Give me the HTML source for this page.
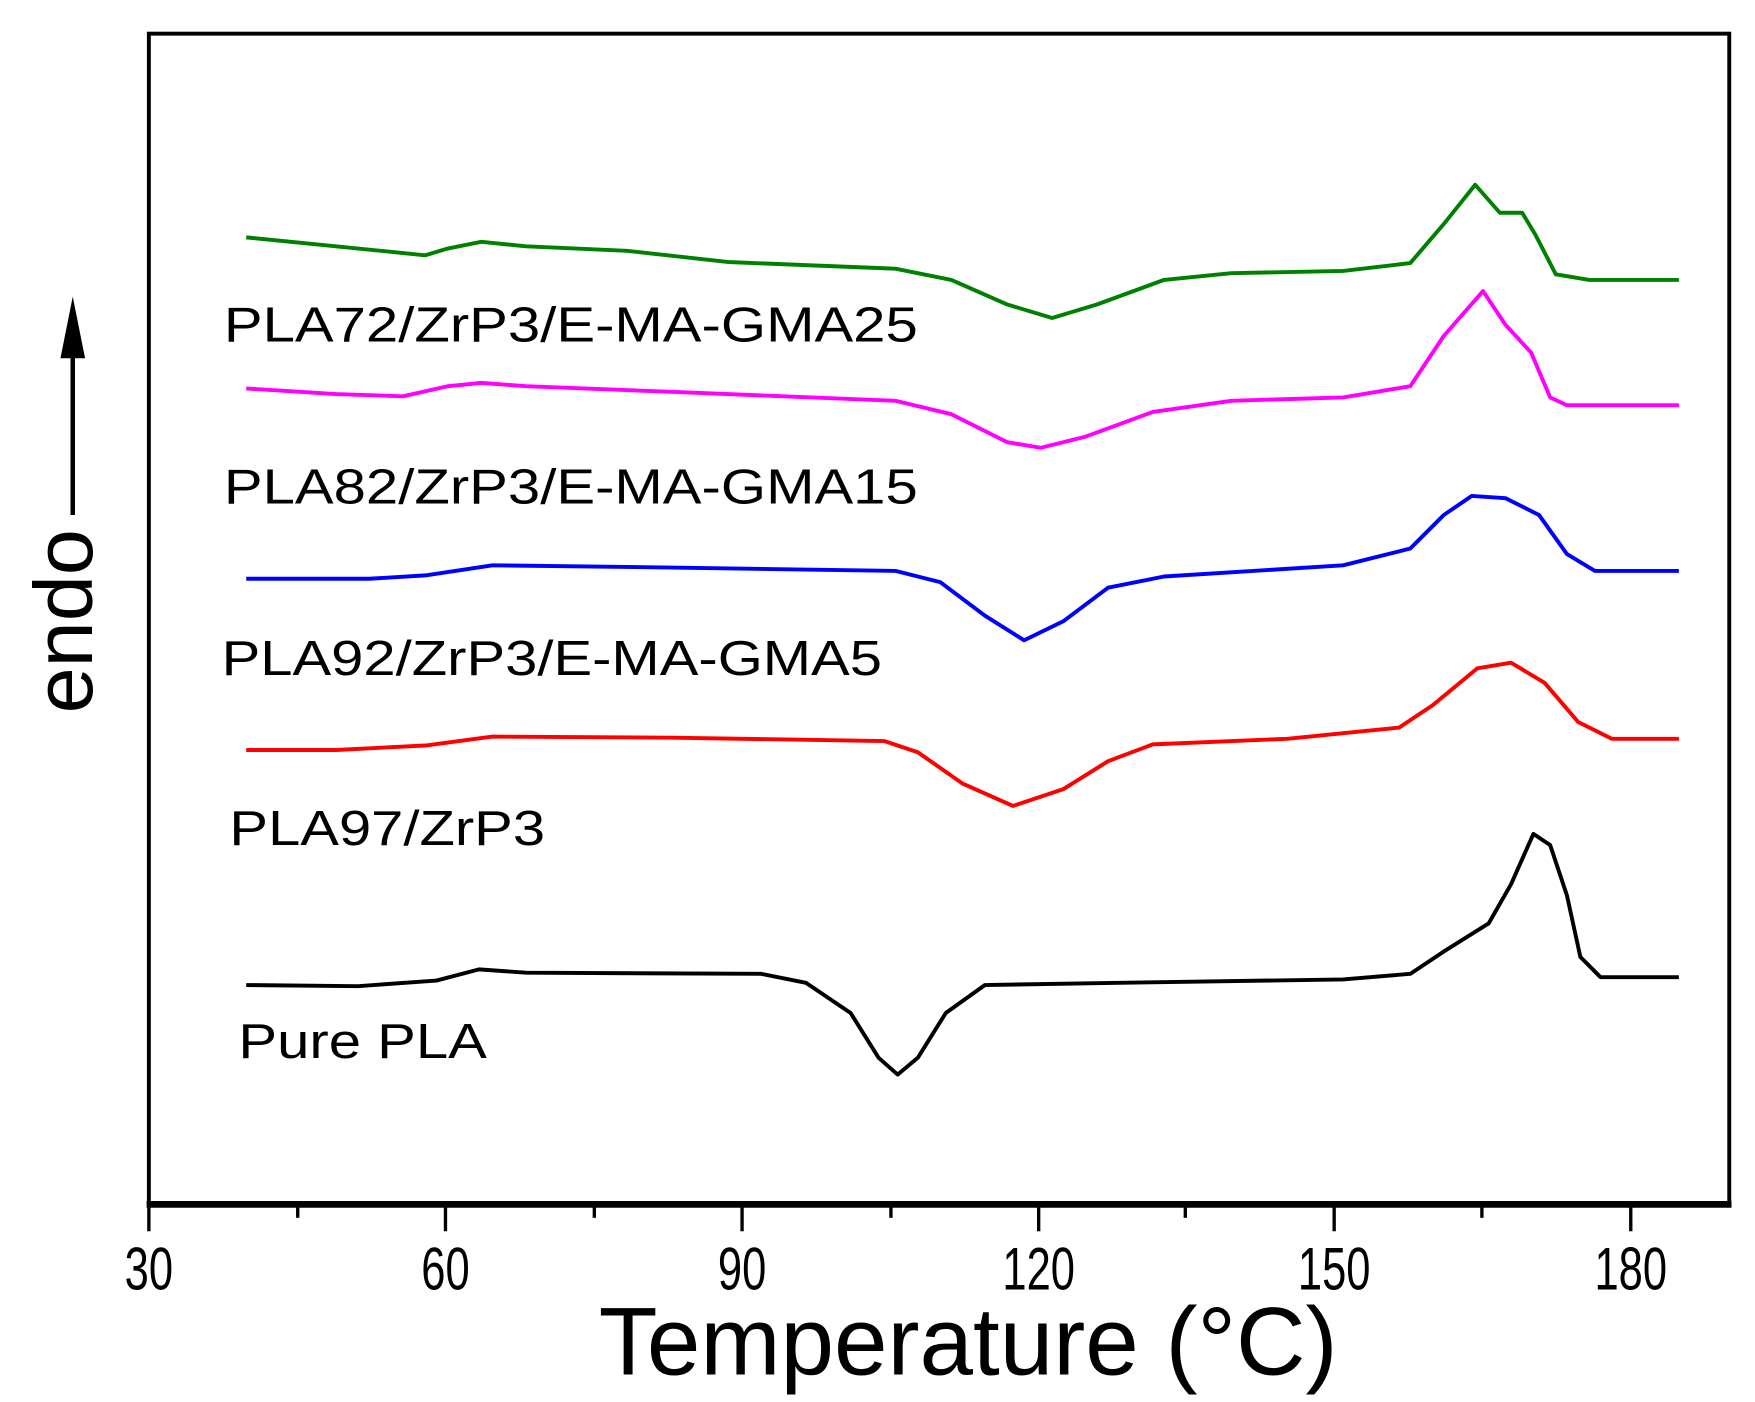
<!DOCTYPE html>
<html><head><style>html,body{margin:0;padding:0;background:#fff}</style></head>
<body>
<svg width="1755" height="1397" viewBox="0 0 1568 1248" xmlns="http://www.w3.org/2000/svg" font-family="Liberation Sans, sans-serif">
<rect width="1568" height="1248" fill="#fff"/>
<rect x="133" y="30" width="1412" height="1047" fill="none" stroke="#000" stroke-width="3.5"/>
<line x1="131" y1="1076" x2="1547" y2="1076" stroke="#000" stroke-width="6"/>
<g stroke="#000" stroke-width="3">
<line x1="133" y1="1077" x2="133" y2="1100"/><line x1="398" y1="1077" x2="398" y2="1100"/><line x1="663" y1="1077" x2="663" y2="1100"/><line x1="928" y1="1077" x2="928" y2="1100"/><line x1="1192" y1="1077" x2="1192" y2="1100"/><line x1="1457" y1="1077" x2="1457" y2="1100"/>
<line x1="266" y1="1077" x2="266" y2="1088"/><line x1="531" y1="1077" x2="531" y2="1088"/><line x1="796" y1="1077" x2="796" y2="1088"/><line x1="1059" y1="1077" x2="1059" y2="1088"/><line x1="1324" y1="1077" x2="1324" y2="1088"/>
</g>
<g font-size="54" text-anchor="middle" fill="#000">
<text transform="translate(133,1152) scale(0.72,1)">30</text>
<text transform="translate(398,1152) scale(0.72,1)">60</text>
<text transform="translate(663,1152) scale(0.72,1)">90</text>
<text transform="translate(928,1152) scale(0.72,1)">120</text>
<text transform="translate(1192,1152) scale(0.72,1)">150</text>
<text transform="translate(1457,1152) scale(0.72,1)">180</text>
</g>
<text x="535" y="1228" font-size="86" textLength="660" lengthAdjust="spacingAndGlyphs">Temperature (°C)</text>
<text transform="translate(82,555) rotate(-90)" font-size="74" text-anchor="middle">endo</text>
<line x1="65" y1="460" x2="65" y2="300" stroke="#000" stroke-width="4"/>
<polygon points="65,265 54,320 76,320" fill="#000"/>
<g fill="none" stroke-width="3.5" stroke-linejoin="round">
<polyline stroke="#008000" points="220,212 300,220 380,228 400,222 430,216 470,220 560,224 650,234 800,240 850,250 900,272 940,284 980,272 1040,250 1100,244 1200,242 1260,235 1290,200 1318,165 1340,190 1360,190 1372,210 1390,245 1420,250 1500,250"/>
<polyline stroke="#ff00ff" points="220,347 300,352 360,354 400,345 430,342 470,345 600,350 800,358 850,370 900,395 930,400 970,390 1030,368 1100,358 1200,355 1260,345 1290,300 1325,260 1345,290 1368,315 1385,355 1400,362 1500,362"/>
<polyline stroke="#0000ff" points="220,517 330,517 380,514 440,505 600,507 800,510 840,520 880,550 915,572 950,555 990,525 1040,515 1200,505 1260,490 1290,460 1315,443 1345,445 1375,460 1400,495 1425,510 1500,510"/>
<polyline stroke="#ff0000" points="220,670 300,670 380,666 440,658 600,659 790,662 820,672 860,700 905,720 950,705 990,680 1030,665 1150,660 1250,650 1280,630 1320,597 1350,592 1380,610 1410,645 1440,660 1500,660"/>
<polyline stroke="#000" points="220,880 320,881 390,876 428,866 470,869 680,870 720,878 760,905 785,945 802,960 820,945 845,905 880,880 1000,878 1200,875 1260,870 1290,850 1330,825 1350,790 1370,745 1385,755 1400,800 1412,855 1430,873 1500,873"/>
</g>
<g font-size="44" fill="#000">
<text x="200" y="305" textLength="620" lengthAdjust="spacingAndGlyphs">PLA72/ZrP3/E-MA-GMA25</text>
<text x="200" y="450" textLength="620" lengthAdjust="spacingAndGlyphs">PLA82/ZrP3/E-MA-GMA15</text>
<text x="198" y="603" textLength="590" lengthAdjust="spacingAndGlyphs">PLA92/ZrP3/E-MA-GMA5</text>
<text x="205" y="755" textLength="282" lengthAdjust="spacingAndGlyphs">PLA97/ZrP3</text>
<text x="213" y="945" textLength="222" lengthAdjust="spacingAndGlyphs">Pure PLA</text>
</g>
</svg>
</body></html>
